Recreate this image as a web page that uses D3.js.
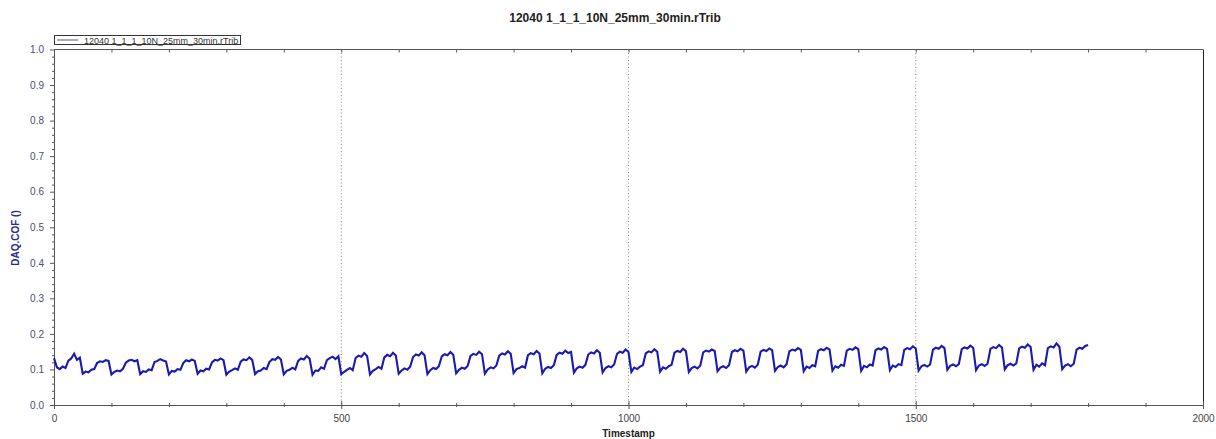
<!DOCTYPE html>
<html><head><meta charset="utf-8">
<script src="https://cdn.jsdelivr.net/npm/d3@7"></script>
<style>body{margin:0;background:#fff}svg{display:block;font-family:"Liberation Sans",Arial,sans-serif}</style>
</head><body><svg id="c" width="1216" height="439"></svg>
<script>
const title = "12040 1_1_1_10N_25mm_30min.rTrib";
const seriesName = "12040 1_1_1_10N_25mm_30min.rTrib";
const xLabel = "Timestamp";
const yLabel = "DAQ.COF ()";
const xMajorTicks = [0, 500, 1000, 1500, 2000];
const yMajorTicks = [0.0, 0.1, 0.2, 0.3, 0.4, 0.5, 0.6, 0.7, 0.8, 0.9, 1.0];
const gridX = [500, 1000, 1500];
const sampleStep = 5; // seconds between samples, starting at 0
const cof = [
0.132,0.106,0.101,0.108,0.104, 0.125,0.131,0.144,0.127,0.133,
0.088,0.094,0.092,0.099,0.101, 0.118,0.123,0.121,0.126,0.124,
0.086,0.093,0.097,0.095,0.102, 0.119,0.125,0.127,0.123,0.126,
0.087,0.095,0.093,0.100,0.098, 0.121,0.124,0.129,0.125,0.122,
0.086,0.096,0.094,0.101,0.099, 0.118,0.126,0.123,0.128,0.124,
0.088,0.097,0.095,0.102,0.100, 0.120,0.127,0.125,0.131,0.126,
0.085,0.094,0.098,0.103,0.099, 0.122,0.128,0.126,0.134,0.127,
0.087,0.095,0.097,0.104,0.101, 0.121,0.129,0.127,0.135,0.128,
0.086,0.096,0.099,0.105,0.100, 0.124,0.131,0.128,0.138,0.130,
0.085,0.097,0.096,0.106,0.102, 0.126,0.132,0.136,0.129,0.137,
0.087,0.093,0.099,0.104,0.098, 0.132,0.139,0.136,0.146,0.138,
0.086,0.096,0.101,0.107,0.102, 0.134,0.141,0.137,0.147,0.139,
0.088,0.097,0.103,0.099,0.108, 0.135,0.142,0.139,0.148,0.140,
0.087,0.098,0.104,0.101,0.109, 0.137,0.143,0.140,0.149,0.141,
0.089,0.099,0.105,0.102,0.110, 0.138,0.144,0.141,0.150,0.143,
0.088,0.100,0.106,0.103,0.111, 0.139,0.145,0.142,0.151,0.144,
0.090,0.101,0.104,0.109,0.105, 0.140,0.146,0.143,0.152,0.145,
0.089,0.102,0.107,0.104,0.112, 0.141,0.147,0.144,0.153,0.146, 0.149,
0.091,0.103,0.108,0.105,0.113, 0.142,0.148,0.145,0.154,0.147,
0.092,0.104,0.109,0.106,0.114, 0.144,0.150,0.147,0.156,0.149,
0.093,0.105,0.101,0.108,0.112, 0.145,0.151,0.148,0.157,0.150,
0.094,0.106,0.102,0.109,0.113, 0.147,0.152,0.149,0.158,0.151,
0.093,0.104,0.108,0.103,0.111, 0.148,0.153,0.150,0.156,0.152,
0.095,0.105,0.109,0.104,0.112, 0.149,0.154,0.151,0.158,0.153,
0.094,0.106,0.110,0.105,0.113, 0.150,0.155,0.152,0.159,0.154,
0.096,0.107,0.111,0.106,0.114, 0.151,0.156,0.153,0.160,0.155,
0.095,0.108,0.104,0.112,0.109, 0.152,0.157,0.154,0.161,0.156,
0.097,0.109,0.105,0.113,0.110, 0.153,0.158,0.155,0.162,0.157,
0.096,0.110,0.106,0.114,0.111, 0.154,0.159,0.156,0.163,0.158,
0.098,0.111,0.107,0.115,0.112, 0.155,0.160,0.157,0.165,0.159,
0.097,0.109,0.113,0.108,0.114, 0.156,0.161,0.158,0.166,0.160,
0.099,0.110,0.114,0.109,0.115, 0.157,0.162,0.159,0.167,0.161,
0.098,0.111,0.115,0.110,0.116, 0.158,0.163,0.160,0.169,0.162,
0.100,0.112,0.116,0.111,0.117, 0.159,0.164,0.161,0.170,0.163,
0.099,0.113,0.108,0.117,0.112, 0.160,0.165,0.162,0.173,0.164,
0.101,0.111,0.115,0.109,0.116, 0.156,0.161,0.158,0.166,0.169
];

const svg = d3.select("#c");
const L = 54, R = 1203, T = 49.5, B = 405;
const x = d3.scaleLinear().domain([0, 2000]).range([L, R]);
const y = d3.scaleLinear().domain([0, 1]).range([B, T]);
const axisCol = "#555";

// title
svg.append("text").attr("x", 615).attr("y", 22).attr("text-anchor", "middle")
  .attr("font-size", 12).attr("font-weight", "bold").attr("fill", "#222").text(title);

// grid
svg.append("g").selectAll("line").data(gridX).join("line")
  .attr("x1", d => x(d)).attr("x2", d => x(d)).attr("y1", T).attr("y2", B)
  .attr("stroke", "#888").attr("stroke-width", 1).attr("stroke-dasharray", "1,2.5");

// frame top/right
svg.append("line").attr("x1", L).attr("x2", R).attr("y1", T).attr("y2", T).attr("stroke", axisCol);
svg.append("line").attr("x1", R + 0.5).attr("x2", R + 0.5).attr("y1", T).attr("y2", B).attr("stroke", "#222");

function styleAxis(g) {
  g.select(".domain").attr("stroke", axisCol);
  g.selectAll(".tick line").attr("stroke", axisCol);
}
// top minor ticks
svg.append("g").attr("transform", `translate(0,${T})`)
  .call(d3.axisBottom(x).tickValues(d3.range(100, 2000, 100)).tickSize(3).tickFormat(""))
  .call(styleAxis).call(g => g.select(".domain").remove());

// bottom axis
const xMinor = d3.range(0, 2001, 100).filter(v => !xMajorTicks.includes(v));
svg.append("g").attr("transform", `translate(0,${B - 2})`)
  .call(d3.axisBottom(x).tickValues(xMinor).tickSize(4).tickFormat(""))
  .call(styleAxis).call(g => g.select(".domain").remove());
svg.append("g").attr("transform", `translate(0,${B - 4})`)
  .call(d3.axisBottom(x).tickValues(xMajorTicks).tickSize(8).tickFormat(""))
  .call(styleAxis).call(g => g.select(".domain").remove());
const gx = svg.append("g").attr("transform", `translate(0,${B})`)
  .call(d3.axisBottom(x).tickValues(xMajorTicks).tickSize(0).tickPadding(10).tickFormat(d3.format("d")))
  .call(styleAxis);
gx.select(".domain").attr("d", `M${L},0.5H${R}`);
gx.selectAll("text").attr("font-size", 10).attr("fill", "#444").attr("font-family", "Liberation Sans, Arial");

// left axis
const yMinor = d3.range(0, 1.0001, 0.02).filter(v => Math.abs(v * 10 - Math.round(v * 10)) > 1e-6);
svg.append("g").attr("transform", `translate(${L},0)`)
  .call(d3.axisLeft(y).tickValues(yMinor).tickSize(2).tickFormat(""))
  .call(styleAxis).call(g => g.select(".domain").remove());
const gy = svg.append("g").attr("transform", `translate(${L},0)`)
  .call(d3.axisLeft(y).tickValues(yMajorTicks).tickSize(4).tickPadding(6).tickFormat(d3.format(".1f")))
  .call(styleAxis);
gy.select(".domain").attr("d", `M0.5,${T}V${B}`);
gy.selectAll("text").attr("font-size", 10).attr("fill", "#4c4c7c").attr("font-family", "Liberation Sans, Arial");

// axis titles
svg.append("text").attr("transform", "translate(19,238) rotate(-90)").attr("text-anchor", "middle")
  .attr("font-size", 10).attr("font-weight", "bold").attr("fill", "#2a2a96").text(yLabel);
svg.append("text").attr("x", (L + R) / 2).attr("y", 437).attr("text-anchor", "middle")
  .attr("font-size", 10).attr("font-weight", "bold").attr("fill", "#222").text(xLabel);

// series
const pts = cof.map((v, i) => [i * sampleStep, v]);
svg.append("path").datum(pts)
  .attr("fill", "none").attr("stroke", "#1a1ab0").attr("stroke-width", 2.1).attr("stroke-linejoin", "miter")
  .attr("d", d3.line().x(d => x(d[0])).y(d => y(d[1])));

// legend
const lg = svg.append("g");
lg.append("rect").attr("x", 54.5).attr("y", 35.5).attr("width", 186).attr("height", 9)
  .attr("fill", "#fff").attr("stroke", "#333");
lg.append("line").attr("x1", 57).attr("x2", 78).attr("y1", 40).attr("y2", 40).attr("stroke", "#55558a");
lg.append("text").attr("x", 84).attr("y", 43.5).attr("font-size", 9).attr("fill", "#333").text(seriesName);
</script></body></html>
